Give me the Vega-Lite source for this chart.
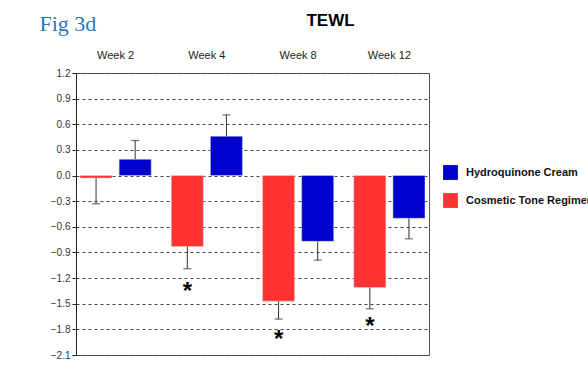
{
  "$schema": "https://vega.github.io/schema/vega-lite/v6.json",
  "autosize": {"type": "none"},
  "width": 353,
  "height": 282,
  "padding": {"left": 76, "top": 73, "right": 159, "bottom": 23},
  "background": "white",
  "config": {
    "font": "Liberation Sans",
    "view": {"stroke": "#555", "strokeWidth": 1}
  },
  "title": {
    "text": "TEWL",
    "fontSize": 17,
    "fontWeight": "bold",
    "color": "#000",
    "anchor": "middle",
    "dx": 78,
    "dy": 30,
    "offset": 12
  },
  "datasets": {
    "bars": [
      {"week": "Week 2", "group": "Cosmetic Tone Regimen", "value": -0.03, "err": -0.33},
      {"week": "Week 2", "group": "Hydroquinone Cream", "value": 0.19, "err": 0.41},
      {"week": "Week 4", "group": "Cosmetic Tone Regimen", "value": -0.83, "err": -1.09},
      {"week": "Week 4", "group": "Hydroquinone Cream", "value": 0.46, "err": 0.71},
      {"week": "Week 8", "group": "Cosmetic Tone Regimen", "value": -1.47, "err": -1.68},
      {"week": "Week 8", "group": "Hydroquinone Cream", "value": -0.77, "err": -0.99},
      {"week": "Week 12", "group": "Cosmetic Tone Regimen", "value": -1.31, "err": -1.56},
      {"week": "Week 12", "group": "Hydroquinone Cream", "value": -0.5, "err": -0.74}
    ],
    "stars": [
      {"week": "Week 4", "group": "Cosmetic Tone Regimen", "pos": -1.36, "label": "*"},
      {"week": "Week 8", "group": "Cosmetic Tone Regimen", "pos": -1.93, "label": "*"},
      {"week": "Week 12", "group": "Cosmetic Tone Regimen", "pos": -1.77, "label": "*"}
    ]
  },
  "encoding": {
    "x": {
      "field": "week", "type": "nominal", "sort": ["Week 2", "Week 4", "Week 8", "Week 12"],
      "scale": {"paddingInner": 0.22, "paddingOuter": 0.044},
      "axis": {"orient": "top", "title": null, "domain": false, "ticks": false, "labelAngle": 0, "labelPadding": 13, "labelFontSize": 11, "labelColor": "#222"}
    },
    "xOffset": {
      "field": "group", "type": "nominal",
      "scale": {"domain": ["Cosmetic Tone Regimen", "Hydroquinone Cream"], "paddingInner": 0.18, "paddingOuter": 0}
    }
  },
  "layer": [
    {
      "data": {"name": "bars"},
      "mark": {"type": "bar", "stroke": "#ddd", "strokeWidth": 0.5},
      "encoding": {
        "y": {
          "field": "value", "type": "quantitative",
          "scale": {"domain": [-2.1, 1.2], "nice": false, "zero": false},
          "axis": {
            "values": [-2.1, -1.8, -1.5, -1.2, -0.9, -0.6, -0.3, 0, 0.3, 0.6, 0.9, 1.2],
            "tickCount": 20,
            "format": ".1f",
            "labelOverlap": false,
            "labelFontSize": 10,
            "labelColor": "#333",
            "domainColor": "#222",
            "tickColor": "#222",
            "tickSize": 4,
            "grid": true,
            "gridColor": "#444",
            "gridDash": [3, 3],
            "gridWidth": 1,
            "title": "Fig 3d",
            "titleFont": "Liberation Serif",
            "titleFontSize": 22,
            "titleFontWeight": "normal",
            "titleColor": "#2878BE",
            "titleAngle": 0,
            "titleAlign": "left",
            "titleBaseline": "alphabetic",
            "titleX": -37,
            "titleY": -43
          }
        },
        "y2": {"datum": 0},
        "color": {
          "field": "group", "type": "nominal",
          "scale": {"domain": ["Hydroquinone Cream", "Cosmetic Tone Regimen"], "range": ["#0000CC", "#FF3333"]},
          "legend": {
            "title": null,
            "orient": "none",
            "legendX": 367,
            "legendY": 92,
            "symbolType": "square",
            "symbolSize": 220,
            "symbolStrokeWidth": 0,
            "symbolOpacity": 1,
            "labelFontSize": 11,
            "labelFontWeight": "bold",
            "labelColor": "#111",
            "labelLimit": 300,
            "rowPadding": 13,
            "labelOffset": 8
          }
        }
      }
    },
    {
      "mark": {"type": "rule", "color": "#999", "strokeWidth": 2},
      "encoding": {"x": null, "xOffset": null, "y": {"datum": 0, "type": "quantitative"}}
    },
    {
      "data": {"name": "bars"},
      "mark": {"type": "rule", "color": "#333", "strokeWidth": 1},
      "encoding": {
        "y": {"field": "value", "type": "quantitative"},
        "y2": {"field": "err"}
      }
    },
    {
      "data": {"name": "bars"},
      "mark": {"type": "tick", "color": "#333", "size": 8, "thickness": 1.2, "orient": "horizontal"},
      "encoding": {
        "y": {"field": "err", "type": "quantitative"}
      }
    },
    {
      "data": {"name": "stars"},
      "mark": {"type": "text", "fontSize": 24, "fontWeight": "bold", "color": "#000", "baseline": "middle"},
      "encoding": {
        "y": {"field": "pos", "type": "quantitative"},
        "text": {"field": "label"}
      }
    }
  ]
}
